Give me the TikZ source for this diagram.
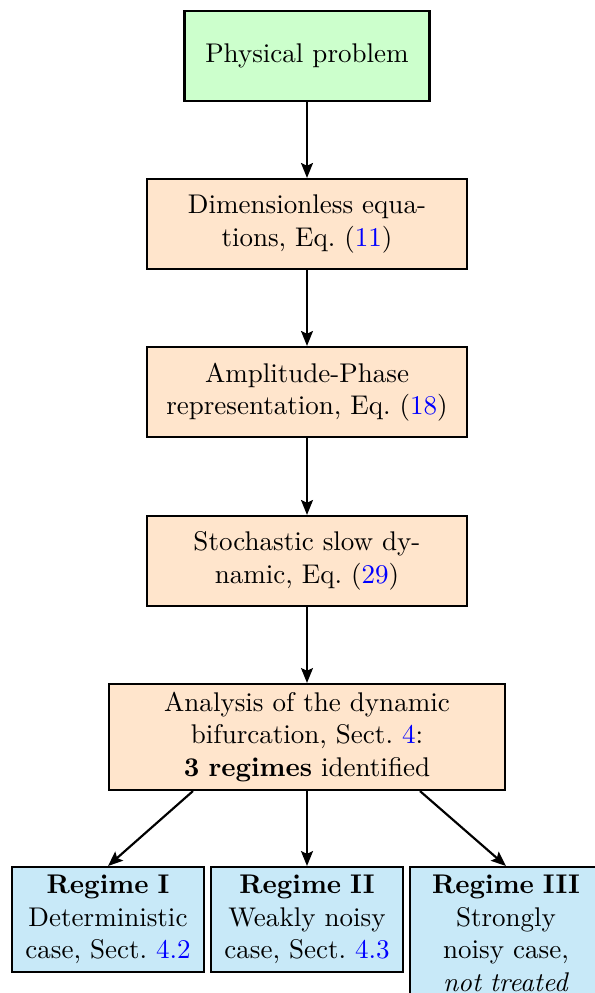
\documentclass[tikz,border=0pt]{standalone}
\usetikzlibrary{arrows.meta,positioning}
\definecolor{boxgreen}{RGB}{204,255,204}
\definecolor{boxpeach}{RGB}{255,229,204}
\definecolor{boxblue}{RGB}{200,233,248}
\newcommand{\refn}[1]{\textcolor{blue}{#1}}
\tikzset{
  basebox/.style={draw=black, thick, align=center, inner xsep=2pt, inner ysep=3pt},
  topbox/.style={basebox, fill=boxgreen, minimum width=90.7pt, minimum height=33.3pt},
  midbox/.style={basebox, fill=boxpeach, minimum width=118.4pt, minimum height=33.3pt, text width=114pt},
  anabox/.style={basebox, fill=boxpeach, minimum width=146.5pt, minimum height=39.2pt, text width=142pt},
  regbox/.style={basebox, fill=boxblue, minimum width=71pt, minimum height=38.5pt, text width=67pt, anchor=north},
  arr/.style={thick, -{Stealth[length=5.5pt,width=4.4pt,inset=1pt]}}
}
\begin{document}
\begin{tikzpicture}[x=0.37pt,y=-0.37pt]
\useasboundingbox (0,0) rectangle (595,993);
\clip (0,0) rectangle (595,993);
\node[topbox] (phys) at (307,56) {Physical problem};
\node[midbox] (dim) at (307,224) {Dimensionless equa-\\tions, Eq.\ (\refn{11})};
\node[midbox] (amp) at (307,392) {Amplitude-Phase\\representation, Eq.\ (\refn{18})};
\node[midbox] (sto) at (307,561) {Stochastic slow dy-\\namic, Eq.\ (\refn{29})};
\node[anabox] (ana) at (307,737) {Analysis of the dynamic\\bifurcation, Sect.\ \refn{4}:\\\textbf{3 regimes} identified};
\node[regbox] (r1) at (108,866) {\textbf{Regime I}\\Deterministic\\case, Sect.\ \refn{4.2}};
\node[regbox] (r2) at (307,866) {\textbf{Regime II}\\Weakly noisy\\case, Sect.\ \refn{4.3}};
\node[regbox] (r3) at (506,866) {\textbf{Regime III}\\Strongly\\noisy case,\\\textit{not treated}};
\draw[arr] (phys.south) -- (dim.north);
\draw[arr] (dim.south) -- (amp.north);
\draw[arr] (amp.south) -- (sto.north);
\draw[arr] (sto.south) -- (ana.north);
\draw[arr] ([xshift=-42.2pt]ana.south) -- (r1.north);
\draw[arr] (ana.south) -- (r2.north);
\draw[arr] ([xshift=41.8pt]ana.south) -- (r3.north);
\end{tikzpicture}
\end{document}
